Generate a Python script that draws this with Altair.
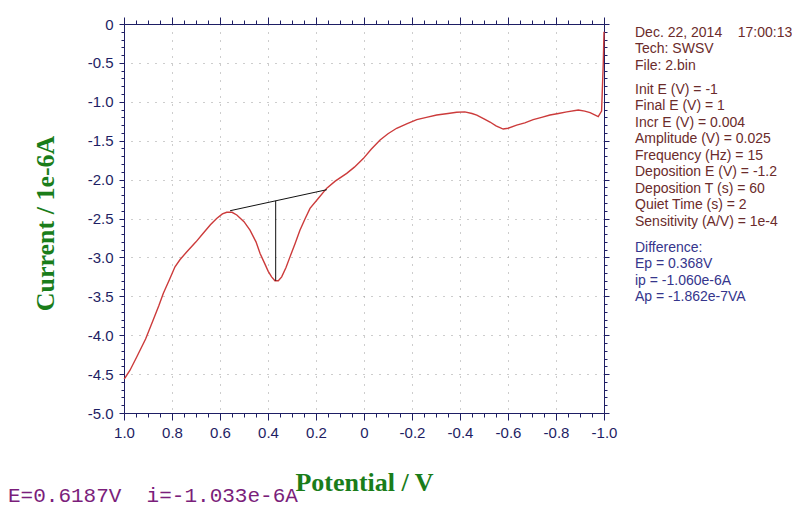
import altair as alt
import pandas as pd

# ---- data ----
potential = [1.000, 0.996, 0.975, 0.947, 0.910, 0.878, 0.855, 0.836, 0.810, 0.7875,
             0.767, 0.739, 0.700, 0.670, 0.640, 0.614, 0.590, 0.572, 0.550, 0.530,
             0.500, 0.475, 0.450, 0.433, 0.415, 0.399, 0.385, 0.371, 0.357, 0.343,
             0.325, 0.308, 0.287, 0.267, 0.245, 0.225, 0.190, 0.155, 0.120, 0.072,
             0.040, 0.003, -0.030, -0.067, -0.100, -0.136, -0.180, -0.220, -0.260, -0.303,
             -0.350, -0.386, -0.420, -0.450, -0.470, -0.500, -0.525, -0.550, -0.580, -0.600,
             -0.636, -0.670, -0.705, -0.740, -0.775, -0.810, -0.845, -0.893, -0.920, -0.942,
             -0.976, -0.990, -0.997, -1.000]
current = [-4.56, -4.55, -4.45, -4.28, -4.05, -3.80, -3.62, -3.46, -3.28, -3.12,
           -3.03, -2.93, -2.80, -2.69, -2.58, -2.50, -2.44, -2.42, -2.42, -2.455,
           -2.54, -2.65, -2.80, -2.95, -3.07, -3.18, -3.25, -3.30, -3.30, -3.25,
           -3.13, -2.99, -2.82, -2.65, -2.50, -2.37, -2.24, -2.11, -2.02, -1.92,
           -1.84, -1.73, -1.61, -1.49, -1.41, -1.34, -1.28, -1.23, -1.20, -1.17,
           -1.15, -1.135, -1.13, -1.15, -1.17, -1.22, -1.26, -1.31, -1.35, -1.34,
           -1.30, -1.27, -1.23, -1.20, -1.17, -1.15, -1.13, -1.105, -1.12, -1.14,
           -1.19, -1.12, -0.50, -0.10]

# peak baseline and peak height markers
seg_x = [0.558, 0.368]
seg_y = [-2.40, -2.273]
seg_x2 = [0.155, 0.368]
seg_y2 = [-2.13, -3.30]

x_ticks = [round(-1 + 0.05 * i, 2) for i in range(41)]
y_ticks = [round(-5 + 0.1 * i, 1) for i in range(51)]

header_lines = ["Dec. 22, 2014\u00a0\u00a0\u00a0\u00a017:00:13", "Tech: SWSV", "File: 2.bin"]
param_lines = ["Init E (V) = -1", "Final E (V) = 1", "Incr E (V) = 0.004",
               "Amplitude (V) = 0.025", "Frequency (Hz) = 15", "Deposition E (V) = -1.2",
               "Deposition T (s) = 60", "Quiet Time (s) = 2", "Sensitivity (A/V) = 1e-4"]
diff_lines = ["Difference:", "Ep = 0.368V", "ip = -1.060e-6A", "Ap = -1.862e-7VA"]
cursor_text = "E=0.6187V\u00a0\u00a0i=-1.033e-6A"

# ---- styling ----
NAVY = "#1e1e64"
GREEN = "#1a7d1a"
RED = "#cc3b3b"
BROWN = "#6b2b2b"
BLUE = "#35358c"
SANS = "Liberation Sans"

MAJ_X = "abs(datum.value*5 - round(datum.value*5)) < 0.001"
MAJ_Y = "abs(datum.value*2 - round(datum.value*2)) < 0.001"
fmt = "(datum.value == 0 ? '0' : replace(format(datum.value, '.1f'), '\u2212', '-'))"

curve_df = pd.DataFrame({"idx": list(range(len(potential))), "E": potential, "i": current})
seg_df = pd.DataFrame({"x": seg_x, "y": seg_y, "x2": seg_x2, "y2": seg_y2})
one = pd.DataFrame({"k": [0]})

xscale = alt.Scale(domain=[-1, 1], reverse=True, nice=False, zero=False)
yscale = alt.Scale(domain=[-5, 0], nice=False, zero=False)

x_bottom = alt.Axis(
    orient="bottom", values=x_ticks, labelExpr=f"{MAJ_X} ? {fmt} : ''",
    tickSize={"condition": {"test": MAJ_X, "value": 7}, "value": 4},
    grid=True, gridOpacity={"condition": {"test": MAJ_X, "value": 1}, "value": 0},
    gridDash=[1, 7], gridColor="#9a9a9a", gridWidth=1,
    domainColor=NAVY, tickColor=NAVY, labelColor=NAVY, labelFont=SANS, labelFontSize=15,
    labelPadding=5, labelFlush=False, labelOverlap=False,
    title="Potential / V", titleFont="Liberation Serif", titleFontSize=26,
    titleFontWeight="bold", titleColor=GREEN, titleBaseline="alphabetic", titleY=77,
)
y_left = alt.Axis(
    orient="left", values=y_ticks, labelExpr=f"{MAJ_Y} ? {fmt} : ''",
    tickSize={"condition": {"test": MAJ_Y, "value": 5}, "value": 3},
    grid=True, gridOpacity={"condition": {"test": MAJ_Y, "value": 1}, "value": 0},
    gridDash=[1, 7], gridColor="#9a9a9a", gridWidth=1,
    domainColor=NAVY, tickColor=NAVY, labelColor=NAVY, labelFont=SANS, labelFontSize=15,
    labelPadding=6, labelFlush=False, labelOverlap=False,
    title="Current / 1e-6A", titleFont="Liberation Serif", titleFontSize=26,
    titleFontWeight="bold", titleColor=GREEN, titleBaseline="alphabetic",
    titleX=-71, titleY=199, titleAngle=270,
)
x_top = alt.Axis(
    orient="top", values=x_ticks, labels=False, grid=False, title=None,
    tickSize={"condition": {"test": MAJ_X, "value": 7}, "value": 4},
    domainColor=NAVY, tickColor=NAVY,
)
y_right = alt.Axis(
    orient="right", values=y_ticks, labels=False, grid=False, title=None,
    tickSize={"condition": {"test": MAJ_Y, "value": 5}, "value": 3},
    domainColor=NAVY, tickColor=NAVY,
)

curve = alt.Chart(curve_df).mark_line(color=RED, strokeWidth=1.4).encode(
    x=alt.X("E:Q", scale=xscale, axis=x_bottom),
    y=alt.Y("i:Q", scale=yscale, axis=y_left),
    order="idx:Q",
)

segments = alt.Chart(seg_df).mark_rule(color="#111111", strokeWidth=1).encode(
    x=alt.X("x:Q", scale=xscale, axis=x_top),
    y=alt.Y("y:Q", scale=yscale, axis=y_right),
    x2="x2:Q",
    y2="y2:Q",
)

def text_block(lines, color, xpos, ypos, font=SANS, size=14, lh=16.5):
    return alt.Chart(one).mark_text(
        text=lines, align="left", baseline="alphabetic", font=font, fontSize=size,
        color=color, lineHeight=lh,
    ).encode(x=alt.value(xpos), y=alt.value(ypos))

header = text_block(header_lines, BROWN, 511, 12.5)
params = text_block(param_lines, BROWN, 511, 69.5)
diff = text_block(diff_lines, BLUE, 511, 227.5)
cursor = text_block([cursor_text], "#7b1e7b", -116, 478, font="Liberation Mono", size=21)

chart = alt.layer(curve, segments, header, params, diff, cursor).resolve_axis(
    x="independent", y="independent"
).properties(
    width=480, height=389,
    padding={"left": 116, "top": 16, "right": 188, "bottom": 96},
    autosize=alt.AutoSizeParams(type="none"),
    background="white",
).configure_view(stroke=None)

chart.save("out.html", embed_options={"renderer": "svg", "actions": False})
